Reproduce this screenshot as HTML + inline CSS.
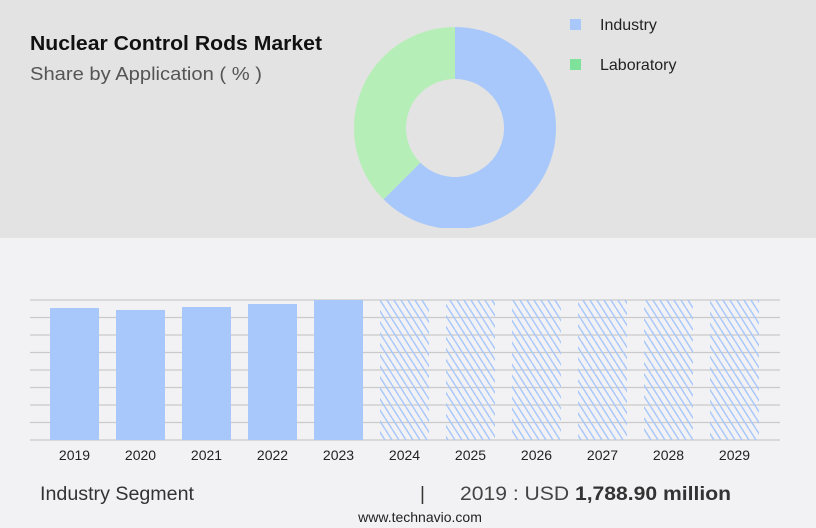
<!DOCTYPE html>
<html><head><meta charset="utf-8"><style>
body{margin:0;width:816px;height:528px;overflow:hidden;background:#f2f2f4;font-family:"Liberation Sans",sans-serif;}
svg{display:block}
</style></head><body>
<svg width="816" height="528">
<defs>
<pattern id="hatch" patternUnits="userSpaceOnUse" width="7" height="11">
<line x1="0" y1="0" x2="7" y2="11" stroke="#a8c8fb" stroke-width="1.5"/>
<line x1="-7" y1="0" x2="0" y2="11" stroke="#a8c8fb" stroke-width="1.5"/>
<line x1="7" y1="0" x2="14" y2="11" stroke="#a8c8fb" stroke-width="1.5"/>
</pattern>
<clipPath id="topclip"><rect x="0" y="0" width="816" height="228"/></clipPath>
</defs>
<rect x="0" y="0" width="816" height="238" fill="#e3e3e3"/>
<text x="30" y="50" font-size="20" font-weight="bold" fill="#111" textLength="292" lengthAdjust="spacingAndGlyphs">Nuclear Control Rods Market</text>
<text x="30" y="80" font-size="18" fill="#555" textLength="232" lengthAdjust="spacingAndGlyphs">Share by Application ( % )</text>
<g id="donut" clip-path="url(#topclip)"></g>
<rect x="570" y="19" width="11" height="11" fill="#a8c8fb"/>
<text x="600" y="30" font-size="16" fill="#222">Industry</text>
<rect x="570" y="59" width="11" height="11" fill="#7ee29a"/>
<text x="600" y="70" font-size="16" fill="#222">Laboratory</text>
<g id="grid"></g>
<g id="bars"></g>
<g id="xlabels"></g>
<text x="40" y="500" font-size="19" fill="#333" textLength="154" lengthAdjust="spacingAndGlyphs">Industry Segment</text>
<text x="420" y="500" font-size="19" fill="#333">|</text>
<text x="460" y="500" font-size="19" fill="#444" textLength="271" lengthAdjust="spacingAndGlyphs">2019 : USD <tspan font-weight="bold" fill="#333">1,788.90 million</tspan></text>
<text x="420" y="522" font-size="14" fill="#222" text-anchor="middle">www.technavio.com</text>
</svg>
<script>
const sliceLabels=["Industry","Laboratory"];
const sliceValues=[62.5,37.5];
const sliceColors=["#a8c8fb","#b6eeb8"];
const years=["2019","2020","2021","2022","2023","2024","2025","2026","2027","2028","2029"];
const values=[1788.9,1762,1802,1843,1897,1897,1897,1897,1897,1897,1897];
const forecast=[false,false,false,false,false,true,true,true,true,true,true];
const NS="http://www.w3.org/2000/svg";
function mk(t,a){const e=document.createElementNS(NS,t);for(const k in a)e.setAttribute(k,a[k]);return e;}
const cx=455,cy=128,R=101,r=49;
const tot=sliceValues.reduce((a,b)=>a+b,0);
let ang=0;const dg=document.getElementById('donut');
sliceValues.forEach((v,i)=>{
 const a0=ang,a1=ang+v/tot*2*Math.PI;ang=a1;
 const p=(rad,a)=>[cx+rad*Math.sin(a),cy-rad*Math.cos(a)];
 const [x0,y0]=p(R,a0),[x1,y1]=p(R,a1),[x2,y2]=p(r,a1),[x3,y3]=p(r,a0);
 const lg=(a1-a0)>Math.PI?1:0;
 const path=mk('path',{d:`M${x0},${y0}A${R},${R} 0 ${lg} 1 ${x1},${y1}L${x2},${y2}A${r},${r} 0 ${lg} 0 ${x3},${y3}Z`,fill:sliceColors[i]});
 
 
 dg.appendChild(path);
});
const baseY=440,topY=300,maxV=1897;
const yScale=v=>baseY-(v/maxV)*(baseY-topY);
const xb=i=>50+i*66;
const gg=document.getElementById('grid');
for(let k=0;k<=8;k++){const yy=baseY-k*(baseY-topY)/8;
 const l=mk('line',{x1:30,x2:780,y1:yy,y2:yy,stroke:'#cacaca','stroke-width':1.2});
 
 
 gg.appendChild(l);}
const bg=document.getElementById('bars'),xl=document.getElementById('xlabels');
years.forEach((yr,i)=>{
 const b=mk('rect',{x:xb(i),y:yScale(values[i]),width:49,height:baseY-yScale(values[i]),fill:forecast[i]?'url(#hatch)':'#a8c8fb'});
 
 
 bg.appendChild(b);
 const t=mk('text',{x:xb(i)+24.5,y:460,'font-size':14,fill:'#222','text-anchor':'middle'});
 t.textContent=yr;
 
 
 xl.appendChild(t);
});
</script>
</body></html>
